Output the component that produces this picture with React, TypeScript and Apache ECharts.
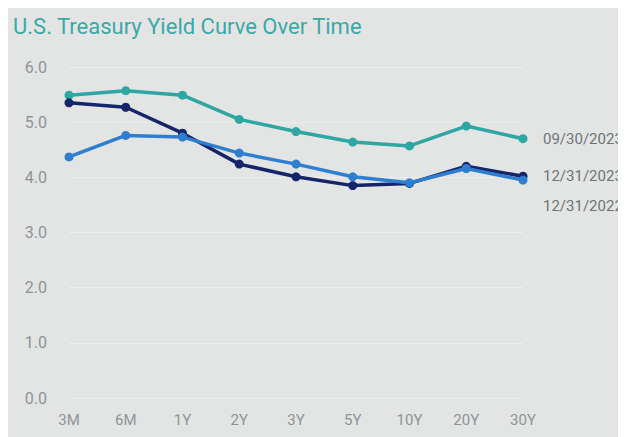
import React, { useEffect, useRef } from "react";
import * as echarts from "echarts";

const categories = ["3M", "6M", "1Y", "2Y", "3Y", "5Y", "10Y", "20Y", "30Y"];
const yTicks = [0, 1, 2, 3, 4, 5, 6];
const sep2023 = [5.49, 5.57, 5.49, 5.05, 4.83, 4.64, 4.57, 4.93, 4.7];
const dec2023 = [5.35, 5.27, 4.8, 4.24, 4.01, 3.85, 3.89, 4.2, 4.02];
const dec2022 = [4.37, 4.76, 4.73, 4.44, 4.24, 4.01, 3.9, 4.16, 3.95];

export default function App() {
  const ref = useRef<HTMLDivElement>(null);
  useEffect(() => {
    if (!ref.current) return;
    const chart = echarts.init(ref.current, undefined, { renderer: "svg" });
    const mk = (name: string, data: number[], color: string, offset: number[]) => ({
      name,
      type: "line",
      data,
      symbol: "circle",
      symbolSize: 9,
      lineStyle: { color, width: 3.5 },
      itemStyle: { color },
      endLabel: {
        show: true,
        formatter: name,
        color: "#6f7375",
        fontSize: 15,
        fontFamily: "Roboto",
        distance: 20,
        offset,
      },
    });
    chart.setOption({
      animation: false,
      backgroundColor: "#e3e5e4",
      title: {
        text: "U.S. Treasury Yield Curve Over Time",
        left: 0,
        top: 2,
        textStyle: { color: "#3aa9a7", fontSize: 22, fontWeight: "normal", fontFamily: "Roboto" },
      },
      grid: { left: 61, right: 103, top: 59, bottom: 39, containLabel: false },
      xAxis: {
        type: "category",
        data: categories,
        boundaryGap: false,
        axisLine: { show: false },
        axisTick: { show: false },
        axisLabel: { color: "#8e9496", fontSize: 15, fontFamily: "Roboto", margin: 14 },
        splitLine: { show: false },
      },
      yAxis: {
        type: "value",
        min: yTicks[0],
        max: yTicks[yTicks.length - 1],
        interval: 1,
        axisLine: { show: false },
        axisTick: { show: false },
        axisLabel: {
          color: "#8e9496",
          fontSize: 16,
          fontFamily: "Roboto",
          margin: 22,
          formatter: (v: number) => v.toFixed(1),
        },
        splitLine: { lineStyle: { color: "#eceeed", width: 1 } },
      },
      series: [
        mk("09/30/2023", sep2023, "#2ea6a2", [0, 0]),
        mk("12/31/2023", dec2023, "#16256a", [0, 0]),
        mk("12/31/2022", dec2022, "#2f7fd0", [0, 26]),
      ],
    });
    return () => chart.dispose();
  }, []);
  return <div ref={ref} style={{ width: 618, height: 429 }} />;
}
